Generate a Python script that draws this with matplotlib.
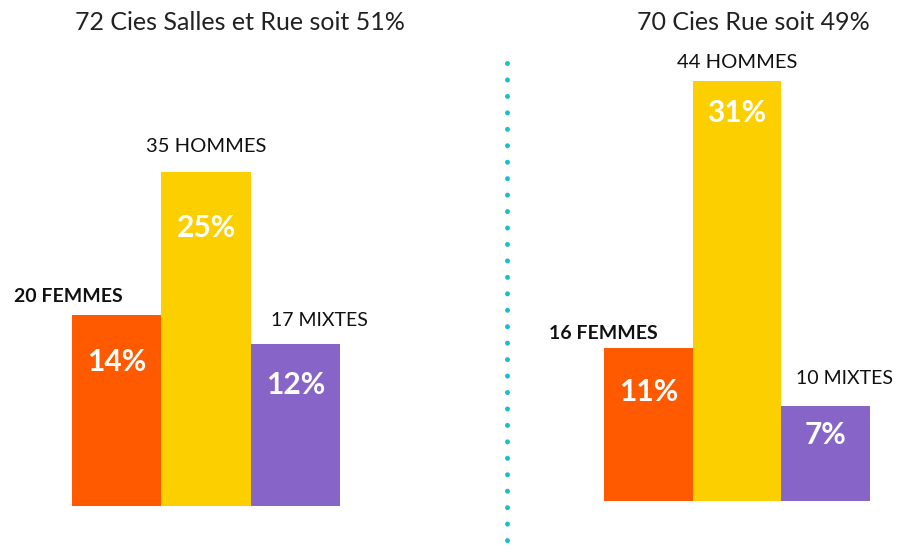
import matplotlib
matplotlib.use("Agg")
import matplotlib.pyplot as plt
from matplotlib.lines import Line2D

plt.rcParams['font.family'] = ['Lato', 'DejaVu Sans']

categories = ["FEMMES", "HOMMES", "MIXTES"]
left_title = "72 Cies Salles et Rue soit 51%"
right_title = "70 Cies Rue soit 49%"
left_counts = [20, 35, 17]
left_pcts = ["14%", "25%", "12%"]
right_counts = [16, 44, 10]
right_pcts = ["11%", "31%", "7%"]

colors = ["#FF5A00", "#FCCF00", "#8764C8"]
W, H = 897, 552
fig = plt.figure(figsize=(W / 100, H / 100), dpi=100)

def px_axes(x0, x1, ybot, ytop):
    return fig.add_axes([x0 / W, 1 - ybot / H, (x1 - x0) / W, (ybot - ytop) / H])

scale = 9.55  # px per unit
axL = px_axes(72, 340, 506, 506 - scale * 40)
axR = px_axes(604, 870, 501, 501 - scale * 46)
axL.set_ylim(0, 40)
axR.set_ylim(0, 46)

# percent label offsets below bar top (px)
offL = [47, 56, 41]
offR = [44, 32, 30]
label_sizes = [14, 14.5, 14]

def draw(ax, counts, pcts, offs, lab_pos):
    x = list(range(len(counts)))
    ax.bar(x, counts, width=1.0, color=colors, edgecolor='none')
    ax.set_xlim(-0.5, len(counts) - 0.5)
    ax.axis('off')
    for i, (c, p, o) in enumerate(zip(counts, pcts, offs)):
        ax.annotate(p, (i, c), xytext=(0, -o), textcoords='offset pixels',
                    ha='center', va='center', color='white', fontsize=21.5,
                    fontweight='bold')
        dx, dy, ha = lab_pos[i]
        ax.annotate(f"{c} {categories[i]}", (i, c), xytext=(dx, dy),
                    textcoords='offset pixels', ha=ha, va='center',
                    fontsize=label_sizes[i],
                    fontweight='bold' if i == 0 else 'normal',
                    color='#111111', annotation_clip=False)

draw(axL, left_counts, left_pcts, offL,
     [(6, 18, 'right'), (0, 25, 'center'), (-24, 23, 'left')])
draw(axR, right_counts, right_pcts, offR,
     [(9, 15, 'right'), (0, 18, 'center'), (-30, 27, 'left')])

fig.text(240 / W, 1 - 22 / H, left_title, ha='center', va='center',
         fontsize=18, color='#222222')
fig.text(753 / W, 1 - 22 / H, right_title, ha='center', va='center',
         fontsize=18, color='#222222')

fig.add_artist(Line2D([507 / W, 507 / W], [1 - 63 / H, 1 - 550 / H],
                      transform=fig.transFigure, color='#1BBFCC', lw=3.6,
                      linestyle=(0, (0.01, 3.28)), dash_capstyle='round'))

fig.savefig("out.png", dpi=100, facecolor='white')
